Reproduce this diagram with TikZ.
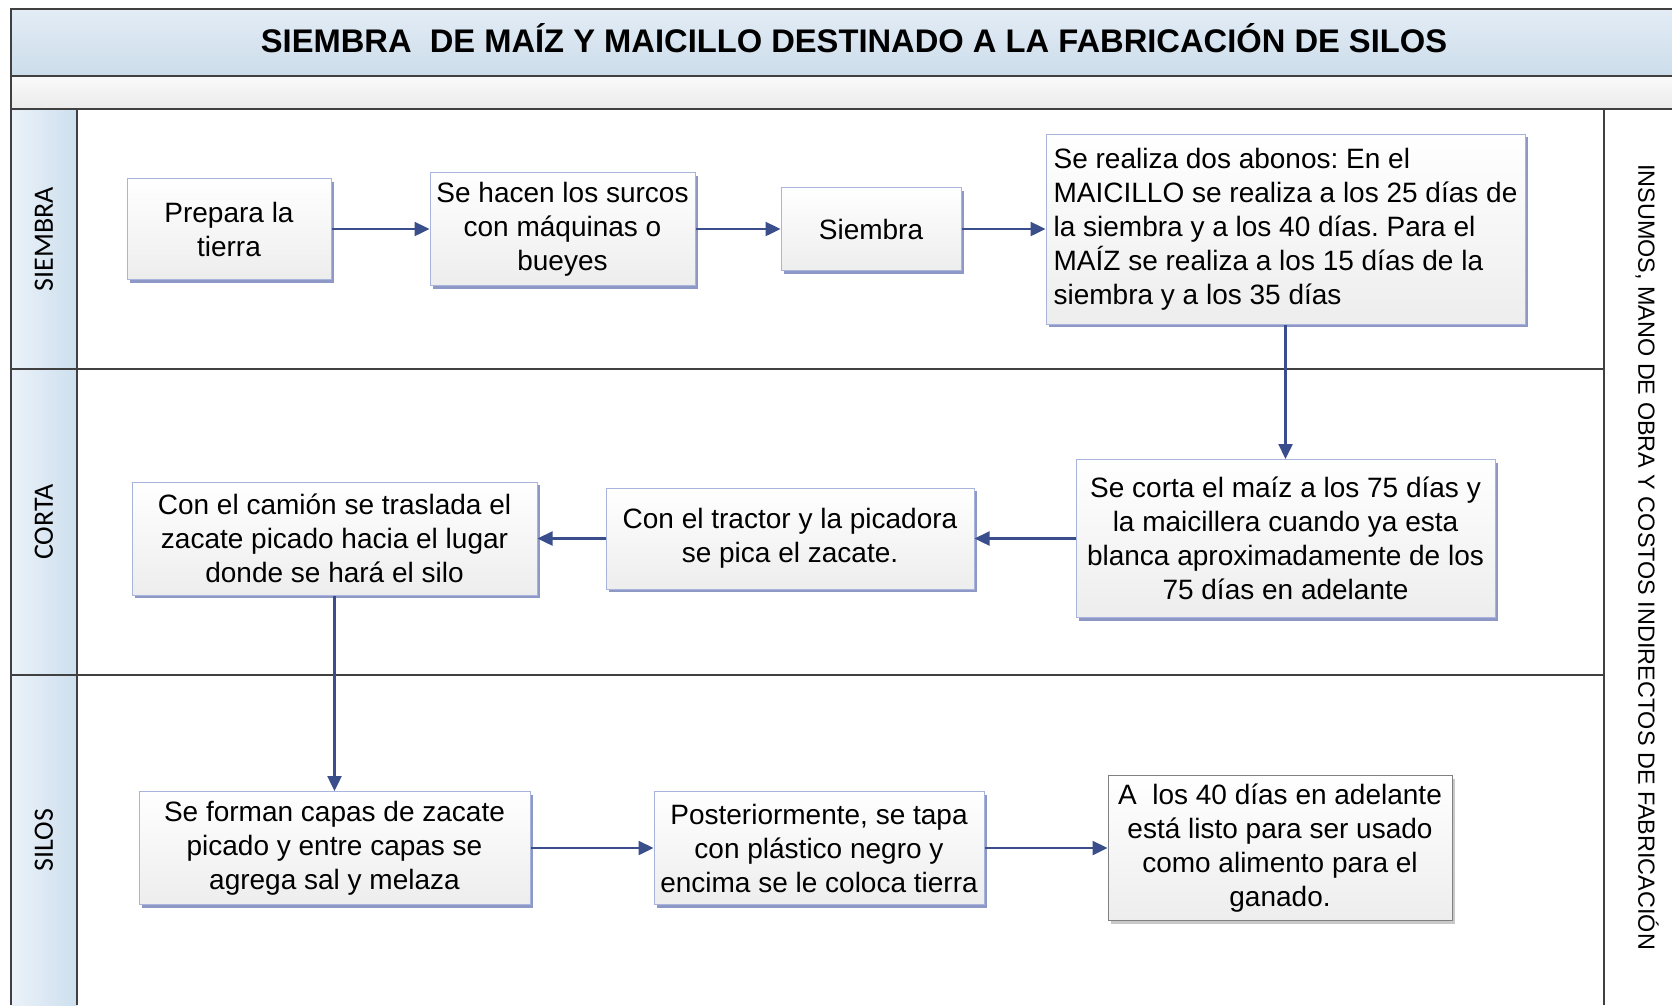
\documentclass[tikz,border=0pt]{standalone}
\usepackage{fontspec}
\setmainfont{Liberation Sans}
\newfontfamily\lanefont{Carlito}
\usetikzlibrary{arrows.meta,shadows}
\definecolor{framec}{HTML}{404040}
\definecolor{arrc}{HTML}{3A4E8C}
\definecolor{boxborder}{HTML}{A8B4DC}
\definecolor{shadowc}{HTML}{8E98C6}
\definecolor{grayborder}{HTML}{808080}
\definecolor{grayshadow}{HTML}{C8C8C8}
\definecolor{titletop}{HTML}{E3ECF5}
\definecolor{titlebot}{HTML}{CCDDEB}
\definecolor{laneleft}{HTML}{EBF2F9}
\definecolor{laneright}{HTML}{CDDFEE}
\frenchspacing
\tikzset{
  stepbox/.style={draw=boxborder, line width=1pt, top color=white, bottom color=black!7,
    inner sep=0pt, align=center, font=\fontsize{28}{34}\selectfont,
    drop shadow={shadow xshift=3pt, shadow yshift=-3pt, fill=shadowc, opacity=1}},
  graybox/.style={stepbox, draw=grayborder,
    drop shadow={shadow xshift=3pt, shadow yshift=-3pt, fill=grayshadow, opacity=1}},
  arr/.style={draw=arrc, line width=2.4pt, -{Triangle[length=15pt,width=14pt]}},
  frameline/.style={draw=framec, line width=2pt},
  lanelabel/.style={rotate=90, font=\lanefont\fontsize{28}{30}\selectfont, inner sep=0pt},
}
\begin{document}
\begin{tikzpicture}[x=1pt,y=-1pt]
\useasboundingbox (0,0) rectangle (1672,1005);
\fill[white] (0,0) rectangle (1672,1005);
% backgrounds
\shade[top color=titletop, bottom color=titlebot] (11,9) rectangle (1672,76);
\shade[top color=black!2, bottom color=black!8] (11,76) rectangle (1672,109);
\shade[left color=laneleft, right color=laneright] (11,109) rectangle (77,1005);
% frame lines
\draw[frameline] (1672,9) -- (11,9) -- (11,1005);
\draw[frameline] (11,76) -- (1672,76);
\draw[frameline] (11,109) -- (1672,109);
\draw[frameline] (77,109) -- (77,1005);
\draw[frameline] (11,369) -- (1604,369);
\draw[frameline] (11,675) -- (1604,675);
\draw[frameline] (1604,109) -- (1604,1005);
% title
\node[font=\bfseries\fontsize{32.7}{36}\selectfont, inner sep=0pt] (title) at (854,38)
  {SIEMBRA \ DE MAÍZ Y MAICILLO DESTINADO A LA FABRICACIÓN DE SILOS};
% lane labels
\node[lanelabel] (l1) at (44,239) {SIEMBRA};
\node[lanelabel] (l2) at (44,522) {CORTA};
\node[lanelabel] (l3) at (44,840) {SILOS};
\node[rotate=-90, font=\fontsize{23.4}{26}\selectfont, inner sep=0pt] (side) at (1647,557)
  {INSUMOS, MANO DE OBRA Y COSTOS INDIRECTOS DE FABRICACIÓN};
% boxes
\node[stepbox, minimum width=204pt, minimum height=101pt] (b1) at (229,229) {Prepara la\\tierra};
\node[stepbox, minimum width=265pt, minimum height=113pt] (b2) at (562.5,229) {Se hacen los surcos\\con máquinas o\\bueyes};
\node[stepbox, minimum width=180pt, minimum height=83pt] (b3) at (871,229) {Siembra};
\node[stepbox, align=left, minimum width=479pt, minimum height=190pt] (b4) at (1285.5,229)
  {Se realiza dos abonos: En el\\MAICILLO se realiza a los 25 días de\\la siembra y a los 40 días. Para el\\MAÍZ se realiza a los 15 días de la\\siembra y a los 35 días};
\node[stepbox, minimum width=419pt, minimum height=158pt] (b5) at (1285.5,538.5)
  {Se corta el maíz a los 75 días y\\la maicillera cuando ya esta\\blanca aproximadamente de los\\75 días en adelante};
\node[stepbox, minimum width=368pt, minimum height=101pt] (b6) at (790,538.5)
  {Con el tractor y la picadora\\se pica el zacate.};
\node[stepbox, minimum width=405pt, minimum height=113pt] (b7) at (334.5,538.5)
  {Con el camión se traslada el\\zacate picado hacia el lugar\\donde se hará el silo};
\node[stepbox, minimum width=391pt, minimum height=113pt] (b8) at (334.5,848)
  {Se forman capas de zacate\\picado y entre capas se\\agrega sal y melaza};
\node[stepbox, minimum width=330pt, minimum height=113pt] (b9) at (819,848)
  {Posteriormente, se tapa\\con plástico negro y\\encima se le coloca tierra};
\node[graybox, minimum width=344pt, minimum height=145pt] (b10) at (1280,848)
  {A \ los 40 días en adelante\\está listo para ser usado\\como alimento para el\\ganado.};
% connectors
\draw[arr] (b1.east) -- (b2.west);
\draw[arr] (b2.east) -- (b3.west);
\draw[arr] (b3.east) -- (b4.west);
\draw[arr] (b4.south) -- (b5.north);
\draw[arr] (b5.west) -- (b6.east);
\draw[arr] (b6.west) -- (b7.east);
\draw[arr] (b7.south) -- (b8.north);
\draw[arr] (b8.east) -- (b9.west);
\draw[arr] (b9.east) -- (b10.west);
\end{tikzpicture}
\end{document}
